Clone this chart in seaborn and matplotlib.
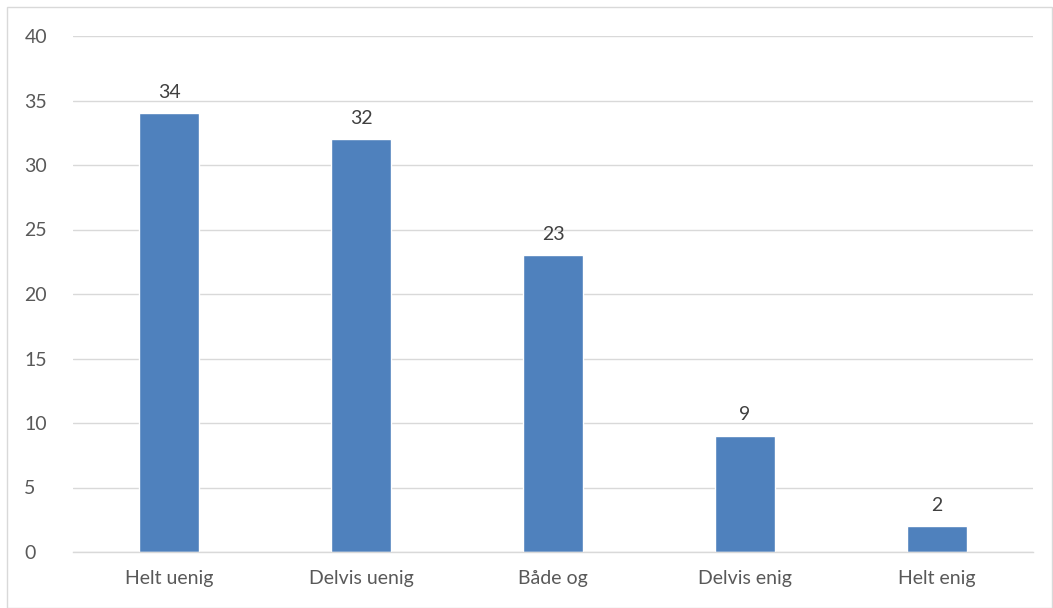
import matplotlib
matplotlib.use("Agg")
import matplotlib.pyplot as plt
from matplotlib.patches import Rectangle
import seaborn as sns
import pandas as pd

# data
categories = ["Helt uenig", "Delvis uenig", "Både og", "Delvis enig", "Helt enig"]
counts = [34, 32, 23, 9, 2]
y_ticks = [0, 5, 10, 15, 20, 25, 30, 35, 40]

df = pd.DataFrame({"svar": categories, "antall": counts})

sns.set_theme(style="white")
plt.rcParams["font.family"] = ["Lato", "DejaVu Sans"]

W, H = 1053, 608
fig = plt.figure(figsize=(W / 100, H / 100), dpi=100)
ax = fig.add_axes([73 / W, 1 - 552 / H, 960 / W, (552 - 36) / H])

sns.barplot(data=df, x="svar", y="antall", color="#4F81BD", saturation=1,
            width=0.31, ax=ax)

ax.set_xlim(-0.5, len(categories) - 0.5)
ax.set_ylim(0, 40)
ax.set_yticks(y_ticks)
ax.yaxis.grid(True, color="#D9D9D9", linewidth=1.0)
ax.set_axisbelow(True)
for side in ["left", "right", "top"]:
    ax.spines[side].set_visible(False)
ax.spines["bottom"].set_color("#D9D9D9")
ax.spines["bottom"].set_linewidth(1.0)
ax.set_xlabel("")
ax.set_ylabel("")
ax.tick_params(axis="both", length=0, labelsize=14, colors="#595959")
ax.tick_params(axis="x", pad=13)
ax.tick_params(axis="y", pad=35)
for lbl in ax.get_yticklabels():
    lbl.set_horizontalalignment("left")

for i, v in enumerate(counts):
    ax.annotate(str(v), (i, v), xytext=(0, 9), textcoords="offset points",
                ha="center", va="bottom", fontsize=14, color="#404040")

# light frame around the whole chart
fig.patches.append(Rectangle((7 / W, 0), 1 - 7 / W - 0.001, 1 - 7 / H,
                             transform=fig.transFigure, fill=False,
                             edgecolor="#D9D9D9", linewidth=1.0))

fig.savefig("out.png", dpi=100)
